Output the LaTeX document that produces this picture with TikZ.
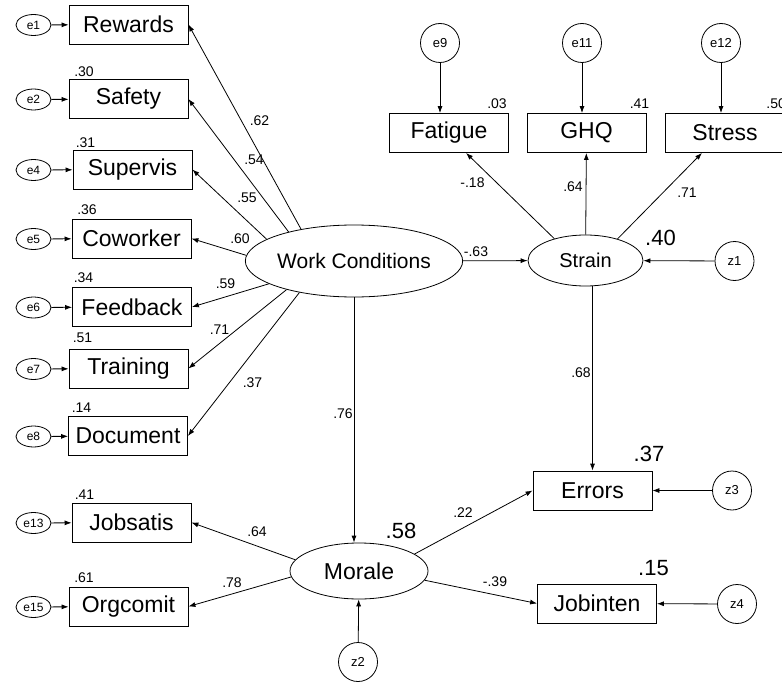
\documentclass[tikz,border=0pt]{standalone}
\usepackage{fontspec}
\setmainfont{Liberation Sans}
\usetikzlibrary{shapes.geometric,arrows.meta}

\begin{document}
\begin{tikzpicture}[x=1pt,y=-1pt,>={Latex[length=7pt,width=5pt]},line width=0.8pt,
    obs/.style={draw,rectangle,minimum width=119pt,minimum height=39pt,inner sep=0pt,font=\fontsize{23}{25}\selectfont},
    lat/.style={draw,ellipse,inner sep=0pt},
    err/.style={draw,ellipse,minimum width=35pt,minimum height=21pt,inner sep=0pt,font=\fontsize{12}{14}\selectfont},
    res/.style={draw,circle,minimum size=39pt,inner sep=0pt,font=\fontsize{13}{15}\selectfont},
    coef/.style={inner sep=0pt,font=\fontsize{14}{16}\selectfont},
    rsq/.style={inner sep=0pt,font=\fontsize{22}{24}\selectfont}]
    \useasboundingbox (0,0) rectangle (782,682);

    \node[obs] (rewards) at (128.5,24.5) {Rewards};
    \node[obs] (safety) at (128.5,99) {Safety};
    \node[obs] (supervis) at (132.5,169.5) {Supervis};
    \node[obs] (coworker) at (131.5,238.5) {Coworker};
    \node[obs] (feedback) at (132,307) {Feedback};
    \node[obs] (training) at (128.5,368.5) {Training};
    \node[obs] (document) at (128,436) {Document};
    \node[obs] (jobsatis) at (131.5,522.5) {Jobsatis};
    \node[obs] (orgcomit) at (128.5,606.5) {Orgcomit};
    \node[obs] (fatigue) at (449,133) {Fatigue};
    \node[obs] (ghq) at (586.5,133) {GHQ};
    \node[obs] (stress) at (725,133) {Stress};
    \node[obs] (errors) at (592.5,490.5) {Errors};
    \node[obs] (jobinten) at (597,603.5) {Jobinten};

    \node[lat,minimum width=178pt,minimum height=72pt,font=\fontsize{21}{23}\selectfont] (work) at (354,261) {Work Conditions};
    \node[lat,minimum width=115pt,minimum height=51pt,font=\fontsize{20}{22}\selectfont] (strain) at (585.5,260.5) {Strain};
    \node[lat,minimum width=138pt,minimum height=56pt,font=\fontsize{23}{25}\selectfont] (morale) at (359,571) {Morale};

    \node[err] (e1) at (33.5,25) {e1};
    \node[err] (e2) at (33.5,99.5) {e2};
    \node[err] (e4) at (33.5,170) {e4};
    \node[err] (e5) at (33.5,239) {e5};
    \node[err] (e6) at (33.5,307.5) {e6};
    \node[err] (e7) at (33.5,369) {e7};
    \node[err] (e8) at (33.5,436.5) {e8};
    \node[err] (e13) at (33.5,523) {e13};
    \node[err] (e15) at (33.5,607) {e15};
    \node[res] (e9) at (440,43) {e9};
    \node[res] (e11) at (582,43) {e11};
    \node[res] (e12) at (721,43) {e12};
    \node[res] (z1) at (734.5,261) {z1};
    \node[res] (z2) at (358,662) {z2};
    \node[res] (z3) at (732,490.5) {z3};
    \node[res] (z4) at (737,604) {z4};

    \draw[->] (e1) -- (rewards);
    \draw[->] (e2) -- (safety);
    \draw[->] (e4) -- (supervis);
    \draw[->] (e5) -- (coworker);
    \draw[->] (e6) -- (feedback);
    \draw[->] (e7) -- (training);
    \draw[->] (e8) -- (document);
    \draw[->] (e13) -- (jobsatis);
    \draw[->] (e15) -- (orgcomit);
    \draw[->] (e9) -- (e9 |- fatigue.north);
    \draw[->] (e11) -- (e11 |- ghq.north);
    \draw[->] (e12) -- (e12 |- stress.north);

    \draw[->] (work.149) -- (rewards.east);
    \draw[->] (work.156) -- (safety.east);
    \draw[->] (work.166) -- (supervis.east);
    \draw[->] (work.177) -- (coworker.east);
    \draw[->] (work.195) -- (feedback.east);
    \draw[->] (work.203) -- (training.east);
    \draw[->] (work.210) -- (document.east);
    \draw[->] (work) -- (strain);
    \draw[->] (work) -- (work |- morale.north);
    \draw[->] (strain.145) -- ([xshift=17pt]fatigue.south);
    \draw[->] (strain) -- (ghq);
    \draw[->] (strain.34) -- ([xshift=-23pt]stress.south);
    \draw[->] (errors.north |- strain.south) -- (errors.north);
    \draw[->] (z1) -- (strain);
    \draw[->] (morale.170) -- (jobsatis.east);
    \draw[->] (morale.185) -- (orgcomit.east);
    \draw[->] (morale.17) -- (errors.west);
    \draw[->] (morale.-8) -- (jobinten.west);
    \draw[->] (z2) -- (morale);
    \draw[->] (z3) -- (errors);
    \draw[->] (z4) -- (jobinten);

    \node[coef] (rsafety) at (84,71.5) {.30};
    \node[coef] (rsupervis) at (85.5,142.5) {.31};
    \node[coef] (rcoworker) at (87,209.5) {.36};
    \node[coef] (rfeedback) at (83.5,278) {.34};
    \node[coef] (rtraining) at (82.5,338) {.51};
    \node[coef] (rdocument) at (81.5,408) {.14};
    \node[coef] (rjobsatis) at (84.5,494.5) {.41};
    \node[coef] (rorgcomit) at (84,578) {.61};
    \node[coef] (rfatigue) at (497,104) {.03};
    \node[coef] (rghq) at (639.5,104) {.41};
    \node[coef,anchor=west] (rstress) at (766,104) {.50};
    \node[rsq] (rstrain) at (660.5,238) {.40};
    \node[rsq] (rerrors) at (649,454) {.37};
    \node[rsq] (rjobinten) at (653.5,568) {.15};
    \node[rsq] (rmorale) at (401,531) {.58};

    \node[coef] (lrewards) at (259.5,120.5) {.62};
    \node[coef] (lsafety) at (254,160) {.54};
    \node[coef] (lsupervis) at (247,198) {.55};
    \node[coef] (lcoworker) at (240,238.5) {.60};
    \node[coef] (lfeedback) at (225.5,284) {.59};
    \node[coef] (ltraining) at (219.5,330) {.71};
    \node[coef] (ldocument) at (252.5,383) {.37};
    \node[coef] (lstrain) at (476,252) {-.63};
    \node[coef] (lmorale) at (343,414) {.76};
    \node[coef] (lfatigue) at (472.5,183) {-.18};
    \node[coef] (lghq) at (573,187) {.64};
    \node[coef] (lstress) at (687,193) {.71};
    \node[coef] (lerrors) at (581,373) {.68};
    \node[coef] (lmerrors) at (463,513) {.22};
    \node[coef] (ljobinten) at (495,582) {-.39};
    \node[coef] (ljobsatis) at (257,532) {.64};
    \node[coef] (lorgcomit) at (232,583) {.78};
\end{tikzpicture}
\end{document}
